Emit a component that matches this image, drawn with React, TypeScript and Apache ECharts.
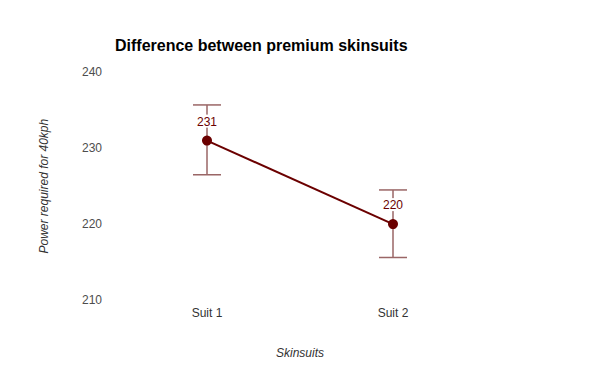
import React, { useEffect, useRef } from "react";
import * as echarts from "echarts";

const categories = ["Suit 1", "Suit 2"];
const means = [231, 220];
const lows = [226.5, 215.6];
const highs = [235.7, 224.5];
const yTicks = { min: 210, max: 240, interval: 10 };

export default function App() {
  const ref = useRef<HTMLDivElement>(null);
  useEffect(() => {
    document.body.style.margin = "0";
    if (!ref.current) return;
    const chart = echarts.init(ref.current, undefined, { renderer: "svg" });
    const errData = categories.map((_, i) => [i, lows[i], highs[i]]);
    chart.setOption({
      animation: false,
      backgroundColor: "#ffffff",
      textStyle: { fontFamily: "Liberation Sans, Arial, sans-serif" },
      title: {
        text: "Difference between premium skinsuits",
        left: 110,
        top: 32,
        textStyle: { fontSize: 16, fontWeight: "bold", color: "#000000", fontFamily: "Liberation Sans, Arial, sans-serif" },
      },
      grid: { left: 114, right: 114, top: 72.3, bottom: 71, containLabel: false },
      xAxis: {
        type: "category",
        data: categories,
        boundaryGap: true,
        name: "Skinsuits",
        nameLocation: "middle",
        nameGap: 47,
        nameTextStyle: { fontStyle: "italic", fontSize: 12, color: "#333333" },
        axisLine: { show: false },
        axisTick: { show: false },
        axisLabel: { fontSize: 12, color: "#333333", margin: 7 },
        splitLine: { show: false },
      },
      yAxis: {
        type: "value",
        min: yTicks.min,
        max: yTicks.max,
        interval: yTicks.interval,
        name: "Power required for 40kph",
        nameLocation: "middle",
        nameGap: 64,
        nameTextStyle: { fontStyle: "italic", fontSize: 12, color: "#333333" },
        axisLine: { show: false },
        axisTick: { show: false },
        axisLabel: { fontSize: 12, color: "#4d4d4d", margin: 12 },
        splitLine: { show: false },
      },
      series: [
        {
          type: "custom",
          data: errData,
          z: 1,
          renderItem: (params: any, api: any) => {
            const x = api.value(0);
            const lo = api.coord([x, api.value(1)]);
            const hi = api.coord([x, api.value(2)]);
            const hw = 14;
            const style = { stroke: "#9a6666", lineWidth: 1.5 };
            return {
              type: "group",
              children: [
                { type: "line", shape: { x1: lo[0], y1: lo[1], x2: hi[0], y2: hi[1] }, style },
                { type: "line", shape: { x1: lo[0] - hw, y1: lo[1], x2: lo[0] + hw, y2: lo[1] }, style },
                { type: "line", shape: { x1: hi[0] - hw, y1: hi[1], x2: hi[0] + hw, y2: hi[1] }, style },
              ],
            };
          },
        },
        {
          type: "line",
          data: means,
          z: 2,
          symbol: "circle",
          symbolSize: 10,
          lineStyle: { color: "#6b0000", width: 2 },
          itemStyle: { color: "#6b0000" },
          label: {
            show: true,
            position: "top",
            distance: 8,
            fontSize: 12,
            color: "#6b0000",
            backgroundColor: "#ffffff",
            padding: [1, 1, 0, 1],
          },
        },
      ],
    });
    return () => chart.dispose();
  }, []);
  return <div ref={ref} style={{ width: 600, height: 371 }} />;
}
